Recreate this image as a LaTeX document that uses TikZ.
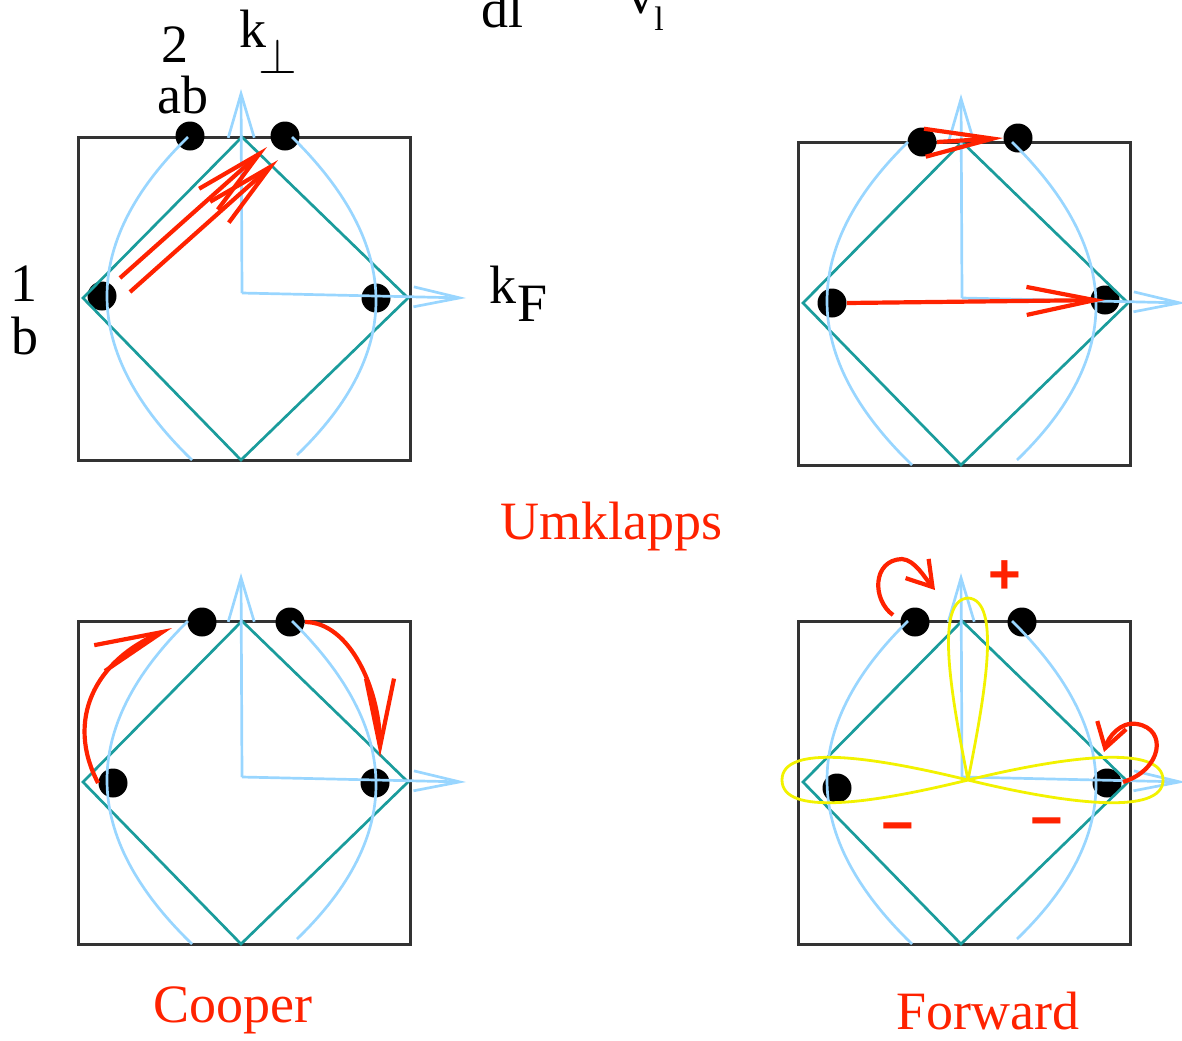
\documentclass[tikz,border=0pt]{standalone}
\usepackage{fontspec}
\setmainfont{Liberation Serif}
\newfontfamily\signfont{Liberation Sans}
\usetikzlibrary{arrows.meta}
\definecolor{boxgray}{HTML}{333333}
\definecolor{tealc}{HTML}{1A9C9C}
\definecolor{skyc}{HTML}{99D6FF}
\definecolor{redc}{HTML}{FF2200}
\definecolor{yelc}{HTML}{F2F200}
\newcommand\panelframe{\draw[frame] (78,137) rectangle (410,460);}
\newcommand\panellines[1]{%
  \draw[dia] (242,137) -- (408,298) -- (241,460) -- (83,298) -- cycle;
  \draw[fs] (188,137) .. controls (78.7,244) and (80,351.7) .. (192,460);
  \draw[fs] (292,137) .. controls (402.3,245.7) and (404,351.7) .. (297,455);
  \coordinate (#1o) at (242,293);
  \coordinate (#1v) at (241,89);
  \coordinate (#1h) at (466,298);
  \draw[axv] (#1o) -- (#1v);
  \draw[axh] (#1o) -- (#1h);
}
\begin{document}
\begin{tikzpicture}[x=0.5pt,y=-0.5pt,
  frame/.style={draw=boxgray,line width=1.5pt},
  dia/.style={draw=tealc,line width=1.35pt},
  fs/.style={draw=skyc,line width=1.35pt},
  axv/.style={draw=skyc,line width=1.35pt,-{Straight Barb[length=22pt,width=13pt]}},
  axh/.style={draw=skyc,line width=1.35pt,-{Straight Barb[length=23pt,width=10pt]}},
  dot/.style={circle,fill=black,minimum size=14.5pt,inner sep=0pt},
  redarr/.style={draw=redc,line width=2.1pt,-{Straight Barb[length=34pt,width=14pt]}},
  curlarr/.style={draw=redc,line width=2.1pt,-{Straight Barb[length=12pt,width=15pt]}},
  lobe/.style={draw=yelc,line width=1.4pt},
  lab/.style={font=\fontsize{27}{30}\selectfont,inner sep=0pt},
  sublab/.style={font=\fontsize{17}{20}\selectfont,inner sep=0pt},
  redlab/.style={lab,text=redc},
  sign/.style={font=\signfont\bfseries\fontsize{28}{30}\selectfont,text=redc,inner sep=0pt}
]
\useasboundingbox (0,0) rectangle (1182,1040);

% ---------- top-left panel ----------
\begin{scope}
  \panelframe
  \node[dot] (tla) at (190,136) {};
  \node[dot] (tlb) at (285,136) {};
  \node[dot] (tll) at (102,296) {};
  \node[dot] (tlr) at (376,298) {};
  \panellines{tl}
  \coordinate (tlA1) at (120,278);
  \coordinate (tlA2) at (267,147);
  \coordinate (tlB1) at (130,292);
  \coordinate (tlB2) at (278,160);
  \draw[redarr] (tlA1) -- (tlA2);
  \draw[redarr] (tlB1) -- (tlB2);
\end{scope}

% ---------- top-right panel ----------
\begin{scope}[shift={(720,5)}]
  \panelframe
  \node[dot] (tra) at (202,137) {};
  \node[dot] (trb) at (298,133) {};
  \node[dot] (trl) at (112,298) {};
  \node[dot] (trr) at (385,295) {};
  \panellines{tr}
  \draw[redarr] (tra.east) -- (trb.west);
  \draw[redarr] (trl.east) -- (trr.center);
\end{scope}

% ---------- bottom-left panel ----------
\begin{scope}[shift={(0,484)}]
  \panelframe
  \node[dot] (bla) at (202,138) {};
  \node[dot] (blb) at (290,138) {};
  \node[dot] (bll) at (113,299) {};
  \node[dot] (blr) at (375,299) {};
  \panellines{bl}
  \coordinate (blt1) at (172,144);
  \coordinate (blt2) at (380,273);
  \draw[redarr] (bll.west) .. controls (65,236) and (95,176) .. (blt1);
  \draw[redarr] (blb.east) .. controls (350,138) and (380,206) .. (blt2);
\end{scope}

% ---------- bottom-right panel ----------
\begin{scope}[shift={(720,484)}]
  \panelframe
  \node[dot] (bra) at (195,138) {};
  \node[dot] (brb) at (302,138) {};
  \node[dot] (brl) at (117,304) {};
  \node[dot] (brr) at (387,299) {};
  \panellines{br}
  \coordinate (brc) at (248,296);
  \draw[lobe] (brc) .. controls (230,206) and (215,116) .. (248,114)
              .. controls (281,116) and (266,206) .. (brc);
  \draw[lobe] (brc) .. controls (150,272) and (62,260) .. (62,296)
              .. controls (62,332) and (150,320) .. (brc);
  \draw[lobe] (brc) .. controls (346,272) and (443,260) .. (443,296)
              .. controls (443,332) and (346,320) .. (brc);
  \coordinate (brs1) at (173,131);
  \coordinate (brs2) at (182,75);
  \coordinate (bre1) at (215,106);
  \draw[curlarr] (brs1) .. controls (152,116) and (152,76) .. (brs2)
                 .. controls (195,76) and (205,94) .. (bre1);
  \coordinate (brs3) at (403,298);
  \coordinate (brs4) at (417,240);
  \coordinate (bre2) at (384,268);
  \draw[curlarr] (brs3) .. controls (442,286) and (448,245) .. (brs4)
                 .. controls (400,237) and (388,254) .. (bre2);
  \node[sign] (plus) at (285,93) {+};
  \node[sign] (minus1) at (178,350) {−};
  \node[sign] (minus2) at (327,345) {−};
\end{scope}

% ---------- labels ----------
\node[lab] (l2) at (175,45) {2};
\node[lab] (lab) at (183,95) {ab};
\node[lab] (lk1) at (253,29) {k};
\node[lab,font=\fontsize{31}{34}\selectfont] (lperp) at (278,56) {$\perp$};
\node[lab] (l1) at (24,284) {1};
\node[lab] (lb) at (25,336) {b};
\node[lab] (lk2) at (503,285) {k};
\node[lab] (lF) at (533,304) {F};
\node[lab,anchor=base] (ldl) at (502,27) {dl};
\node[lab,anchor=base] (lv) at (641,13) {v};
\node[sublab,anchor=base] (lvl) at (659,30) {l};
\node[redlab] (umk) at (611,526) {Umklapps};
\node[redlab] (coop) at (233,1010) {Cooper};
\node[redlab] (forw) at (988,1011) {Forward};
\end{tikzpicture}
\end{document}
